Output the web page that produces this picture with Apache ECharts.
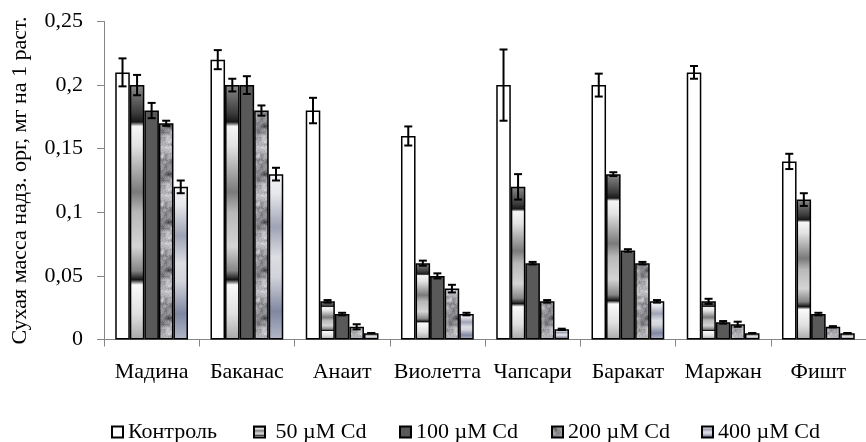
<!DOCTYPE html>
<html>
<head>
<meta charset="utf-8">
<script src="https://cdn.jsdelivr.net/npm/echarts@6/dist/echarts.min.js"></script>
<style>html,body{margin:0;padding:0;background:#fff}#c{width:866px;height:442px}</style>
</head>
<body>
<div id="c"></div>
<script>
const categories = ['Мадина','Баканас','Анаит','Виолетта','Чапсари','Баракат','Маржан','Фишт'];
const seriesNames = ['Контроль','50 µM Cd','100 µM Cd','200 µM Cd','400 µM Cd'];
const control   = [0.21, 0.22, 0.18, 0.16, 0.20, 0.20, 0.21, 0.14];
const controlErr= [0.011, 0.0075, 0.01, 0.0075, 0.028, 0.009, 0.005, 0.006];
const cd50      = [0.20, 0.20, 0.03, 0.06, 0.12, 0.13, 0.03, 0.11];
const cd50Err   = [0.008, 0.005, 0.001, 0.002, 0.01, 0.0015, 0.002, 0.005];
const cd100     = [0.18, 0.20, 0.02, 0.05, 0.06, 0.07, 0.0135, 0.02];
const cd100Err  = [0.006, 0.007, 0.001, 0.002, 0.001, 0.001, 0.001, 0.001];
const cd200     = [0.17, 0.18, 0.01, 0.04, 0.03, 0.06, 0.012, 0.01];
const cd200Err  = [0.002, 0.004, 0.002, 0.003, 0.001, 0.001, 0.002, 0.0005];
const cd400     = [0.12, 0.13, 0.005, 0.02, 0.008, 0.03, 0.005, 0.005];
const cd400Err  = [0.005, 0.005, 0.0, 0.001, 0.0005, 0.001, 0.0, 0.0];
const yTickLabels = ['0','0,05','0,1','0,15','0,2','0,25'];
const yTitle = 'Сухая масса надз. орг, мг на 1 раст.';

const values = [control, cd50, cd100, cd200, cd400];
const errors = [controlErr, cd50Err, cd100Err, cd200Err, cd400Err];

// granite-like texture (style only)
function makeGranite(){
  const S = 48, cv = document.createElement('canvas');
  cv.width = S; cv.height = S;
  const ctx = cv.getContext('2d');
  const img = ctx.createImageData(S, S);
  function h(i, j){ const n = Math.sin(i*127.1 + j*311.7)*43758.5453; return n - Math.floor(n); }
  function noise(x, y, cell){
    const P = S/cell;
    const gx = x/cell, gy = y/cell;
    const i0 = Math.floor(gx), j0 = Math.floor(gy);
    const fx = gx - i0, fy = gy - j0;
    const a = h(i0%P, j0%P), b = h((i0+1)%P, j0%P), c = h(i0%P, (j0+1)%P), d = h((i0+1)%P, (j0+1)%P);
    const sx = fx*fx*(3-2*fx), sy = fy*fy*(3-2*fy);
    return (a*(1-sx)+b*sx)*(1-sy) + (c*(1-sx)+d*sx)*sy;
  }
  for (let y=0; y<S; y++) for (let x=0; x<S; x++){
    const v = 0.5*noise(x,y,6) + 0.35*noise(x,y,3) + 0.15*h(x+3,y+7);
    let g = 60 + v*185; g = Math.max(70, Math.min(235, g));
    const k = (y*S+x)*4;
    img.data[k]=g; img.data[k+1]=g; img.data[k+2]=g+4; img.data[k+3]=255;
  }
  ctx.putImageData(img, 0, 0);
  return cv;
}

const fill50 = {type:'linear', x:0, y:0, x2:0, y2:1, colorStops:[
  {offset:0, color:'#8a8a8a'},{offset:0.11, color:'#3c3c3c'},{offset:0.145, color:'#181818'},
  {offset:0.162, color:'#f6f6f6'},{offset:0.24, color:'#e2e2e2'},{offset:0.42, color:'#7a7a7a'},
  {offset:0.5, color:'#b8b8b8'},{offset:0.635, color:'#d4d4d4'},{offset:0.73, color:'#858585'},
  {offset:0.765, color:'#141414'},{offset:0.785, color:'#fafafa'},{offset:0.9, color:'#e0e0e0'},
  {offset:1, color:'#a8a8a8'}]};
const fill400 = {type:'linear', x:0, y:0, x2:0, y2:1, colorStops:[
  {offset:0, color:'#f4f4f6'},{offset:0.12, color:'#e6e7eb'},{offset:0.32, color:'#9ea3b5'},
  {offset:0.5, color:'#dcdde2'},{offset:0.62, color:'#d2d4db'},{offset:0.83, color:'#7f87a2'},
  {offset:1, color:'#b4b8c7'}]};
const fills = ['#ffffff', fill50, '#595959', {image: makeGranite(), repeat:'repeat'}, fill400];

const GAP = 0.236;
const FONT = 'Liberation Serif, Times New Roman, serif';
const FS = 22;

const series = values.map((arr, s) => ({
  name: seriesNames[s], type:'bar', data: arr,
  barGap:'0%', barCategoryGap: (GAP*100)+'%',
  itemStyle:{color: fills[s], borderColor:'#000', borderWidth:1.5},
  emphasis:{disabled:true}, z:2
}));

const errData = [];
values.forEach((arr, s) => arr.forEach((v, i) => errData.push([i, v, errors[s][i], s])));
series.push({
  type:'custom', z:5, silent:true,
  encode:{x:0, y:1},
  data: errData,
  renderItem: function(params, api){
    const ci = api.value(0), v = api.value(1), e = api.value(2), s = api.value(3);
    const band = api.size([1, 0])[0];
    const bw = band*(1-GAP)/5;
    const cx = api.coord([ci, v])[0] + (s-2)*bw;
    const yt = api.coord([ci, v+e])[1], yb = api.coord([ci, v-e])[1];
    const st = {stroke:'#000', lineWidth:2};
    const cap = 4;
    return {type:'group', children:[
      {type:'line', shape:{x1:cx, y1:yt, x2:cx, y2:yb}, style:st},
      {type:'line', shape:{x1:cx-cap, y1:yt, x2:cx+cap, y2:yt}, style:st},
      {type:'line', shape:{x1:cx-cap, y1:yb, x2:cx+cap, y2:yb}, style:st}
    ]};
  }
});

const legendLeft = [111, 253, 399, 551, 701];
const legendText = ['Контроль',' 50 µM Cd','100 µM Cd','200 µM Cd','400 µM Cd'];
const legends = seriesNames.map((n, i) => ({
  data:[n], left: legendLeft[i], top: 421, padding:0, itemGap:0,
  itemWidth:11, itemHeight:11, icon:'rect',
  formatter: () => legendText[i],
  textStyle:{fontFamily:FONT, fontSize:FS, color:'#000'},
  selectedMode:false
}));

const chart = echarts.init(document.getElementById('c'), null, {renderer:'canvas'});
chart.setOption({
  animation:false,
  backgroundColor:'#fff',
  legend: legends,
  grid:{left:104, right:-6, top:21.5, bottom:102.5, containLabel:false},
  xAxis:{type:'category', data:categories,
    axisLine:{show:true, lineStyle:{color:'#868686', width:1}},
    axisTick:{show:true, length:7, lineStyle:{color:'#868686'}},
    axisLabel:{fontFamily:FONT, fontSize:FS, color:'#000', margin:22, interval:0},
    splitLine:{show:false}},
  yAxis:{type:'value', min:0, max:0.25, interval:0.05,
    name: yTitle, nameLocation:'middle', nameGap:73,
    nameTextStyle:{fontFamily:FONT, fontSize:FS, color:'#000'},
    axisLine:{show:true, lineStyle:{color:'#868686', width:1}},
    axisTick:{show:true, length:7, lineStyle:{color:'#868686'}},
    axisLabel:{fontFamily:FONT, fontSize:FS, color:'#000', margin:21,
      formatter: v => yTickLabels[Math.round(v/0.05)]},
    splitLine:{show:false}},
  series: series
});
</script>
</body>
</html>
